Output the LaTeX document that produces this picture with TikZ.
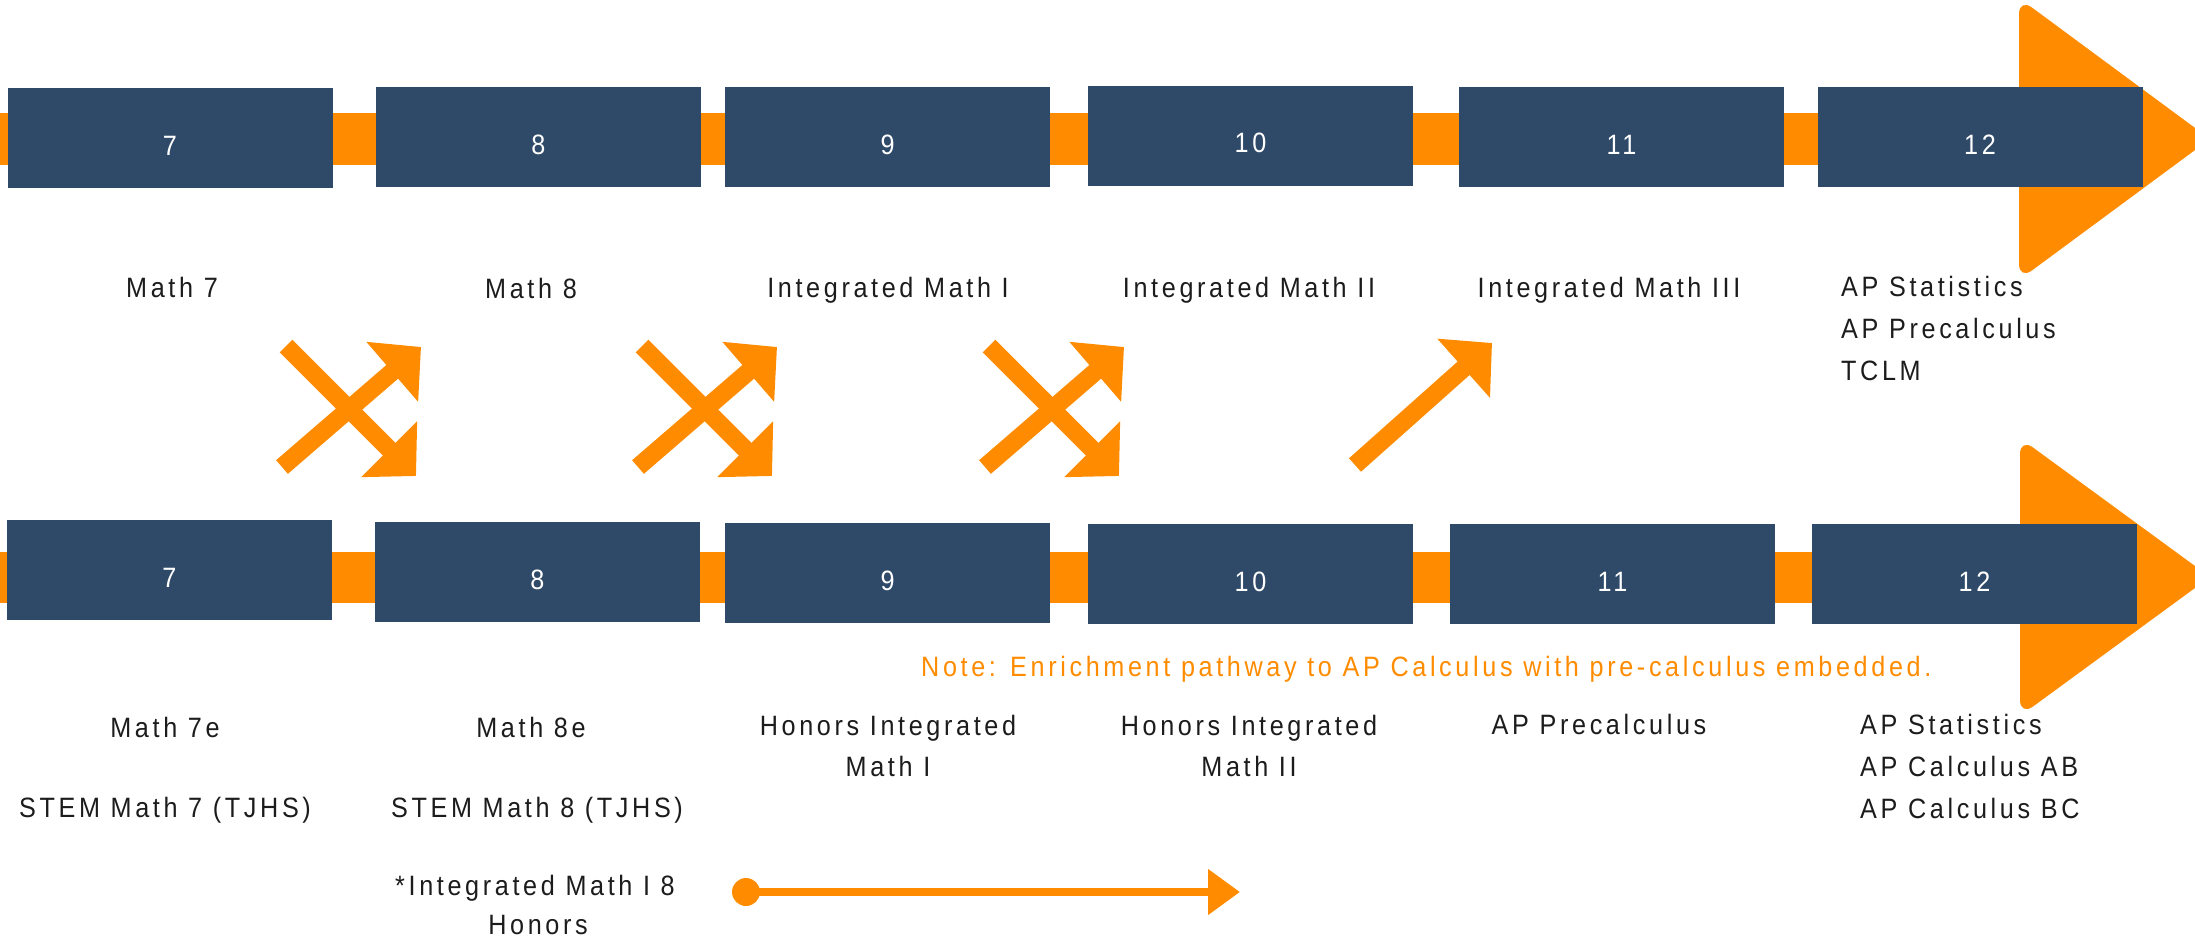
\documentclass[tikz,border=0pt]{standalone}
\usepackage{fontspec}
\setmainfont{Liberation Sans}[FakeStretch=0.9, LetterSpace=13]
\usetikzlibrary{arrows.meta}
\definecolor{navy}{RGB}{47,74,104}
\definecolor{org}{RGB}{255,140,0}
\definecolor{txt}{RGB}{28,28,28}
\begin{document}
\begin{tikzpicture}[x=1pt,y=-1pt,
  bar/.style={fill=org},
  bighead/.style={fill=org, rounded corners=16pt},
  box/.style={fill=navy, minimum width=325pt, minimum height=100pt, inner sep=0pt, text=white, text height=34pt, text depth=0pt, font=\fontsize{28}{34}\selectfont},
  lbl/.style={text=txt, inner sep=0pt, anchor=base, font=\fontsize{28}{34}\selectfont},
  lbll/.style={lbl, anchor=base west},
  note/.style={text=org, inner sep=0pt, anchor=base west, font=\fontsize{28}{34}\selectfont},
  bigarr/.style={draw=org, line width=18pt, -{Triangle[length=38pt,width=77pt]}},
  tline/.style={draw=org, line width=8pt, -{Triangle[length=32pt,width=44pt]}}]
\useasboundingbox (0,0) rectangle (2195,939);
% timeline bars
\fill[bar] (0,113) rectangle (2030,165);
\fill[bar] (0,552) rectangle (2030,603);
% big arrow heads
\fill[bighead] (2019,-2) -- (2210,139) -- (2019,280) -- cycle;
\fill[bighead] (2020,438) -- (2210,577) -- (2020,716) -- cycle;
% top row boxes
\node[box] (t7)  at (170,138) {7};
\node[box] (t8)  at (538.5,137) {8};
\node[box] (t9)  at (887.5,137) {9};
\node[box] (t10) at (1250.5,136) {10};
\node[box] (t11) at (1621.5,137) {11};
\node[box] (t12) at (1980,137) {12};
% bottom row boxes
\node[box] (b7)  at (169.5,570) {7};
\node[box] (b8)  at (537.5,572) {8};
\node[box] (b9)  at (887.5,573) {9};
\node[box] (b10) at (1250.5,574) {10};
\node[box] (b11) at (1612.5,574) {11};
\node[box] (b12) at (1974.5,574) {12};
% top labels
\node[lbl] (lt7) at (172,297) {Math 7};
\node[lbl] (lt8) at (531,298) {Math 8};
\node[lbl] (lt9) at (888,297) {Integrated Math I};
\node[lbl] (lt10) at (1249,297) {Integrated Math II};
\node[lbl] (lt11) at (1609,297) {Integrated Math III};
\node[lbll] (lt12a) at (1841,296) {AP Statistics};
\node[lbll] (lt12b) at (1841,338) {AP Precalculus};
\node[lbll] (lt12c) at (1841,380) {TCLM};
% bottom labels
\node[lbl] (lb7a) at (165,737) {Math 7e};
\node[lbl] (lb7b) at (165,817) {STEM Math 7 (TJHS)};
\node[lbl] (lb8a) at (531,737) {Math 8e};
\node[lbl] (lb8b) at (537,817) {STEM Math 8 (TJHS)};
\node[lbl] (lb8c) at (535,895) {*Integrated Math I 8};
\node[lbl] (lb8d) at (538,934) {Honors};
\node[lbl] (lb9a) at (888,735) {Honors Integrated};
\node[lbl] (lb9b) at (888,776) {Math I};
\node[lbl] (lb10a) at (1249,735) {Honors Integrated};
\node[lbl] (lb10b) at (1249,776) {Math II};
\node[lbl] (lb11) at (1599,734) {AP Precalculus};
\node[lbll] (lb12a) at (1860,734) {AP Statistics};
\node[lbll] (lb12b) at (1860,776) {AP Calculus AB};
\node[lbll] (lb12c) at (1860,818) {AP Calculus BC};
\node[note] (nt) at (921,676) {Note: Enrichment pathway to AP Calculus with pre-calculus embedded.};
% crossing arrows
\foreach \dx [count=\i] in {0,356,703} {
  \coordinate (xa\i) at (282+\dx,467);
  \coordinate (xb\i) at (421+\dx,347);
  \coordinate (xc\i) at (286+\dx,346);
  \coordinate (xd\i) at (416+\dx,476);
  \draw[bigarr] (xa\i) -- (xb\i);
  \draw[bigarr] (xc\i) -- (xd\i);
}
\coordinate (sa) at (1355,465);
\coordinate (sb) at (1492,343);
\draw[bigarr] (sa) -- (sb);
% accelerated pathway arrow
\coordinate (dot) at (746,892);
\coordinate (dend) at (1240,892);
\fill[org] (dot) circle (14);
\draw[tline] (dot) -- (dend);
\end{tikzpicture}
\end{document}
